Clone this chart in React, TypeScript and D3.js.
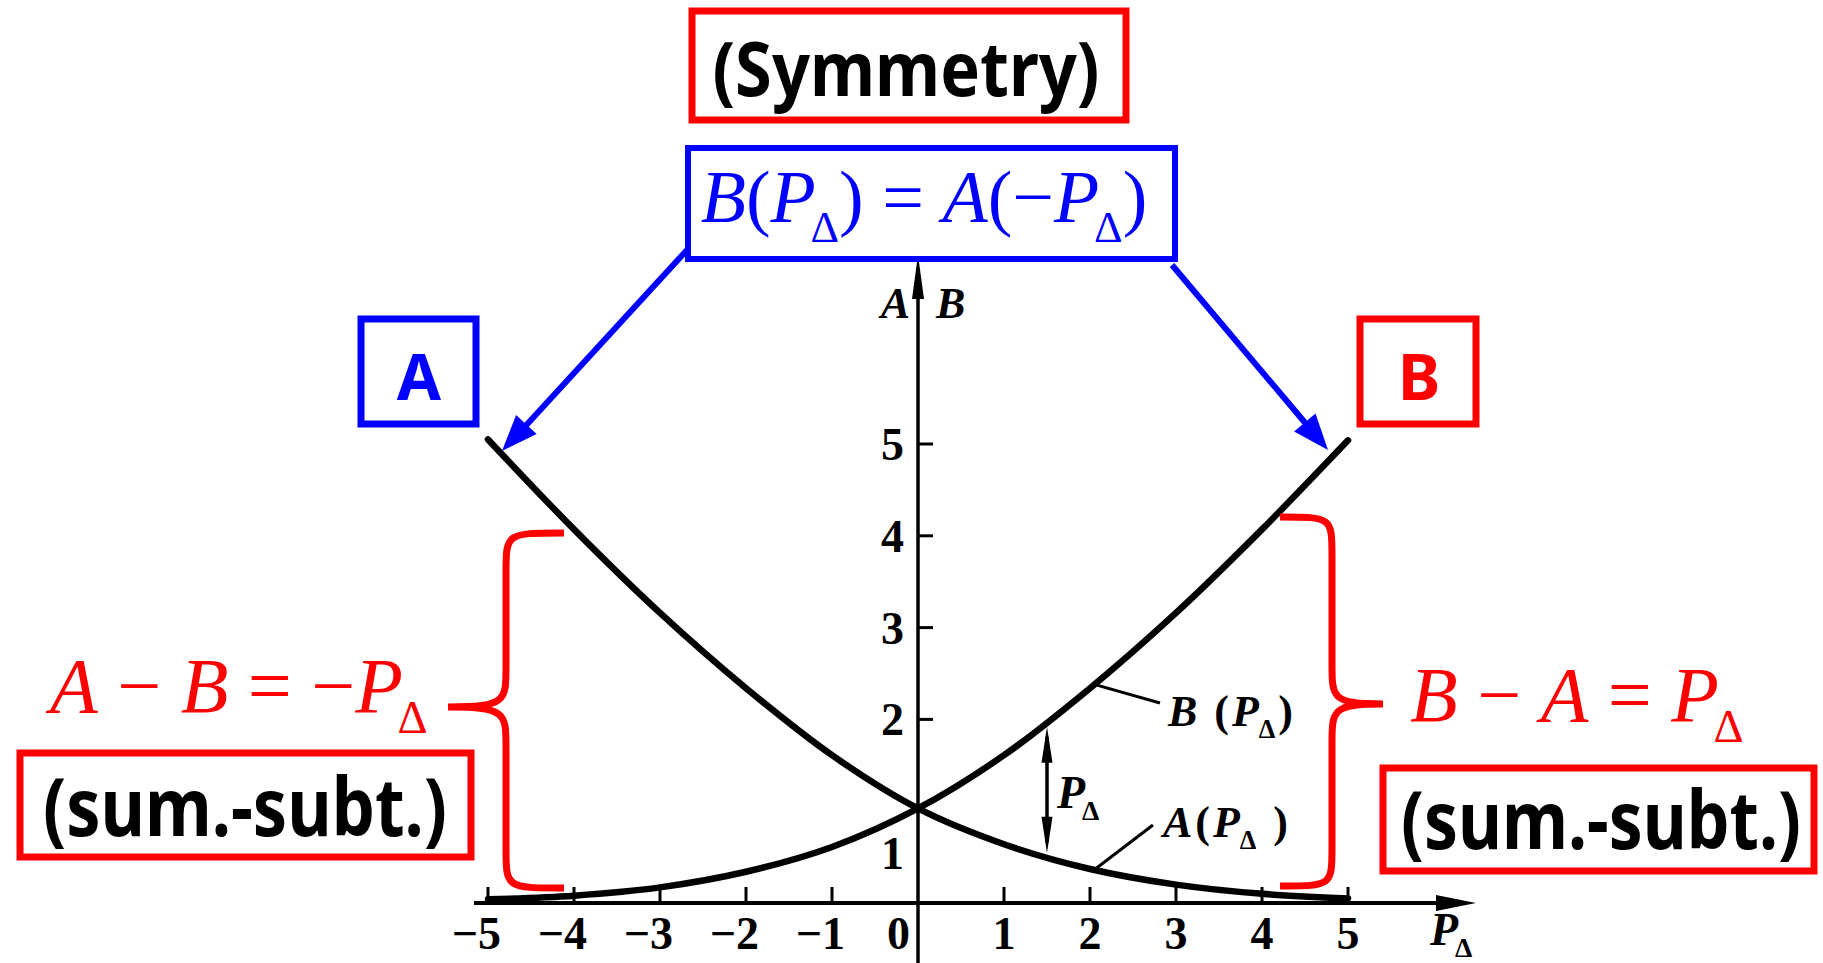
import React from "react";
import * as d3 from "d3";

// values
const pValues = [-5, -4, -3, -2, -1, 0, 1, 2, 3, 4, 5];
const aValues = [5.05, 4.07, 3.16, 2.34, 1.61, 1.03, 0.64, 0.37, 0.2, 0.1, 0.05];
const bValues = [0.04, 0.08, 0.17, 0.34, 0.61, 1.03, 1.61, 2.34, 3.16, 4.07, 5.04];

const xTicks = [-5, -4, -3, -2, -1, 1, 2, 3, 4, 5];
const xTickLabels = ["−5", "−4", "−3", "−2", "−1", "1", "2", "3", "4", "5"];
const yTicks = [2, 3, 4, 5];
const yLabelValues = [0.55, 2, 3, 4, 5];
const yLabelText = ["1", "2", "3", "4", "5"];

const arrowP = 1.5; // where the P_delta gap is marked
const leaderP = 2.05; // where the curve labels attach

const W = 1823;
const H = 963;
const RED = "#ff0000";
const BLUE = "#0000ff";
const SERIF = "'Liberation Serif', 'Times New Roman', serif";
const SANS = "'Noto Sans', 'Open Sans', sans-serif";

type Piece = { t: string; i?: boolean; sub?: boolean };

// formula text with italic letters and a subscript delta tucked under the P
const MathText = ({ x, y, size, fill, pieces, anchor = "start", spacing = 0, bold = false }: any) => {
  let down = false;
  return (
    <text
      x={x}
      y={y}
      fontSize={size}
      fontFamily={SERIF}
      fill={fill}
      textAnchor={anchor}
      letterSpacing={spacing}
      fontWeight={bold ? "bold" : "normal"}
      style={{ whiteSpace: "pre" }}
    >
      {pieces.map((p: Piece, k: number) => {
        let dy = 0;
        let dx = 0;
        if (p.sub && !down) {
          dy = size * 0.27;
          dx = -size * 0.07;
          down = true;
        } else if (!p.sub && down) {
          dy = -size * 0.27;
          down = false;
        }
        return (
          <tspan
            key={k}
            dy={dy || undefined}
            dx={dx || undefined}
            fontStyle={p.i ? "italic" : "normal"}
            fontSize={p.sub ? size * 0.6 : undefined}
          >
            {p.t}
          </tspan>
        );
      })}
    </text>
  );
};

// filled arrow head at (x2,y2) pointing away from (x1,y1)
const arrowHead = (x1: number, y1: number, x2: number, y2: number, len: number, half: number) => {
  const a = Math.atan2(y2 - y1, x2 - x1);
  const bx = x2 - len * Math.cos(a);
  const by = y2 - len * Math.sin(a);
  const px = -Math.sin(a) * half;
  const py = Math.cos(a) * half;
  return `M${x2},${y2}L${bx + px},${by + py}L${bx - px},${by - py}Z`;
};

// curly brace from (xEnd,yTop) to (xEnd,yBot) with its point at (xTip,yTip)
const bracePath = (xEnd: number, xMid: number, xTip: number, yTop: number, yTip: number, yBot: number, r: number) => {
  return [
    `M${xEnd},${yTop}`,
    `C${xMid},${yTop} ${xMid},${yTop} ${xMid},${yTop + r}`,
    `L${xMid},${yTip - r}`,
    `C${xMid},${yTip - 6} ${xMid},${yTip} ${xTip},${yTip}`,
    `C${xMid},${yTip} ${xMid},${yTip + 6} ${xMid},${yTip + r}`,
    `L${xMid},${yBot - r}`,
    `C${xMid},${yBot} ${xMid},${yBot} ${xEnd},${yBot}`,
  ].join(" ");
};

const pDelta: Piece[] = [{ t: "P", i: true }, { t: "Δ", sub: true }];

const App = () => {
  const x = d3.scaleLinear().domain([-5, 5]).range([488, 1348]);
  const y = d3.scaleLinear().domain([0, 5]).range([903, 444]);

  const line = d3
    .line<number>()
    .x((_, i) => x(pValues[i]))
    .y((d) => y(d))
    .curve(d3.curveCatmullRom.alpha(0.5));

  const interp = (vals: number[], p: number) => {
    const i = d3.bisectLeft(pValues, p);
    if (i <= 0) return vals[0];
    const t = (p - pValues[i - 1]) / (pValues[i] - pValues[i - 1]);
    return vals[i - 1] + t * (vals[i] - vals[i - 1]);
  };

  const x0 = x(0);
  const y0 = y(0);
  const arrX = x(arrowP);
  const arrTop = y(interp(bValues, arrowP)) + 5;
  const arrBot = y(interp(aValues, arrowP)) - 4;

  const boxStroke = 7;

  return (
    <svg width={W} height={H} style={{ position: "absolute", left: 0, top: 0, background: "#fff" }}>
      {/* axes */}
      <line x1={474} x2={1450} y1={y0} y2={y0} stroke="#000" strokeWidth={4} />
      <path d={arrowHead(1400, y0, 1476, y0, 40, 8)} fill="#000" />
      <line x1={x0} x2={x0} y1={H} y2={285} stroke="#000" strokeWidth={3.5} />
      <path d={arrowHead(x0, 400, x0, 255, 44, 6)} fill="#000" />

      {xTicks.map((v) => (
        <line key={v} x1={x(v)} x2={x(v)} y1={y0} y2={y0 - 16} stroke="#000" strokeWidth={3} />
      ))}
      {yTicks.map((v) => (
        <line key={v} x1={x0} x2={x0 + 15} y1={y(v)} y2={y(v)} stroke="#000" strokeWidth={3} />
      ))}

      {xTicks.map((v, i) => (
        <text
          key={v}
          x={v < 0 ? x(v) + 13 : x(v)}
          y={y0 + 46}
          fontSize={46}
          fontFamily={SERIF}
          fontWeight="bold"
          textAnchor={v < 0 ? "end" : "middle"}
        >
          {xTickLabels[i]}
        </text>
      ))}
      <text x={x0 - 8} y={y0 + 46} fontSize={46} fontFamily={SERIF} fontWeight="bold" textAnchor="end">
        0
      </text>
      {yLabelValues.map((v, i) => (
        <text key={i} x={x0 - 14} y={y(v) + 16} fontSize={46} fontFamily={SERIF} fontWeight="bold" textAnchor="end">
          {yLabelText[i]}
        </text>
      ))}

      <text x={x0 - 8} y={318} fontSize={44} fontFamily={SERIF} fontStyle="italic" fontWeight="bold" textAnchor="end">
        A
      </text>
      <text x={x0 + 18} y={318} fontSize={44} fontFamily={SERIF} fontStyle="italic" fontWeight="bold">
        B
      </text>
      <MathText x={1430} y={945} size={46} fill="#000" bold pieces={pDelta} />

      {/* curves */}
      <path d={line(aValues) || ""} fill="none" stroke="#000" strokeWidth={6.5} strokeLinecap="round" />
      <path d={line(bValues) || ""} fill="none" stroke="#000" strokeWidth={6.5} strokeLinecap="round" />

      {/* P_delta gap */}
      <line x1={arrX} x2={arrX} y1={arrTop + 10} y2={arrBot - 10} stroke="#000" strokeWidth={3.5} />
      <path d={arrowHead(arrX, arrTop + 60, arrX, arrTop, 36, 5.5)} fill="#000" />
      <path d={arrowHead(arrX, arrBot - 60, arrX, arrBot, 36, 5.5)} fill="#000" />
      <MathText x={arrX + 10} y={808} size={46} fill="#000" bold pieces={pDelta} />

      {/* curve labels */}
      <line x1={x(leaderP)} y1={y(interp(bValues, leaderP))} x2={1160} y2={703} stroke="#000" strokeWidth={3} />
      <MathText
        x={1168}
        y={726}
        size={44}
        fill="#000"
        spacing={3}
        bold
        pieces={[{ t: "B", i: true }, { t: " (" }, { t: "P", i: true }, { t: "Δ", sub: true }, { t: ")" }]}
      />
      <line x1={x(leaderP)} y1={y(interp(aValues, leaderP))} x2={1153} y2={825} stroke="#000" strokeWidth={3} />
      <MathText
        x={1163}
        y={837}
        size={44}
        fill="#000"
        spacing={3}
        bold
        pieces={[{ t: "A", i: true }, { t: "(" }, { t: "P", i: true }, { t: "Δ", sub: true }, { t: " )" }]}
      />

      {/* top annotations */}
      <rect x={692} y={11} width={434} height={109} fill="none" stroke={RED} strokeWidth={boxStroke} />
      <text
        x={906}
        y={96}
        fontSize={76}
        fontFamily={SANS}
        fontWeight="bold"
        textAnchor="middle"
        textLength={387}
        lengthAdjust="spacingAndGlyphs"
      >
        (Symmetry)
      </text>

      <rect x={688} y={148} width={487} height={111} fill="none" stroke={BLUE} strokeWidth={6} />
      <MathText
        x={924}
        y={222}
        size={74}
        fill={BLUE}
        anchor="middle"
        pieces={[
          { t: "B", i: true },
          { t: "(" },
          { t: "P", i: true },
          { t: "Δ", sub: true },
          { t: ") = " },
          { t: "A", i: true },
          { t: "(−" },
          { t: "P", i: true },
          { t: "Δ", sub: true },
          { t: ")" },
        ]}
      />

      <line x1={687} y1={250} x2={520} y2={432} stroke={BLUE} strokeWidth={6} />
      <path d={arrowHead(687, 250, 502, 451, 36, 14)} fill={BLUE} />
      <line x1={1172} y1={265} x2={1312} y2={431} stroke={BLUE} strokeWidth={6} />
      <path d={arrowHead(1172, 265, 1328, 450, 36, 14)} fill={BLUE} />

      <rect x={361} y={319} width={115} height={105} fill="none" stroke={BLUE} strokeWidth={boxStroke} />
      <text x={419} y={400} fontSize={64} fontFamily={SANS} fontWeight="bold" fill={BLUE} textAnchor="middle">
        A
      </text>
      <rect x={1360} y={319} width={116} height={105} fill="none" stroke={RED} strokeWidth={boxStroke} />
      <text x={1419} y={400} fontSize={64} fontFamily={SANS} fontWeight="bold" fill={RED} textAnchor="middle">
        B
      </text>

      {/* braces and sum-subtraction relations */}
      <path d={bracePath(564, 506, 448, 533, 707, 888, 40)} fill="none" stroke={RED} strokeWidth={7} />
      <path d={bracePath(1280, 1332, 1383, 517, 704, 886, 40)} fill="none" stroke={RED} strokeWidth={7} />

      <MathText
        x={50}
        y={712}
        size={78}
        fill={RED}
        pieces={[
          { t: "A", i: true },
          { t: " − " },
          { t: "B", i: true },
          { t: " = −" },
          { t: "P", i: true },
          { t: "Δ", sub: true },
        ]}
      />
      <MathText
        x={1410}
        y={721}
        size={78}
        fill={RED}
        pieces={[
          { t: "B", i: true },
          { t: " − " },
          { t: "A", i: true },
          { t: " = " },
          { t: "P", i: true },
          { t: "Δ", sub: true },
        ]}
      />

      <rect x={20} y={753} width={451} height={104} fill="none" stroke={RED} strokeWidth={boxStroke} />
      <text
        x={245}
        y={836}
        fontSize={80}
        fontFamily={SANS}
        fontWeight="bold"
        textAnchor="middle"
        textLength={404}
        lengthAdjust="spacingAndGlyphs"
      >
        (sum.-subt.)
      </text>
      <rect x={1383} y={768} width={431} height={103} fill="none" stroke={RED} strokeWidth={boxStroke} />
      <text
        x={1601}
        y={849}
        fontSize={80}
        fontFamily={SANS}
        fontWeight="bold"
        textAnchor="middle"
        textLength={400}
        lengthAdjust="spacingAndGlyphs"
      >
        (sum.-subt.)
      </text>
    </svg>
  );
};

export default App;
